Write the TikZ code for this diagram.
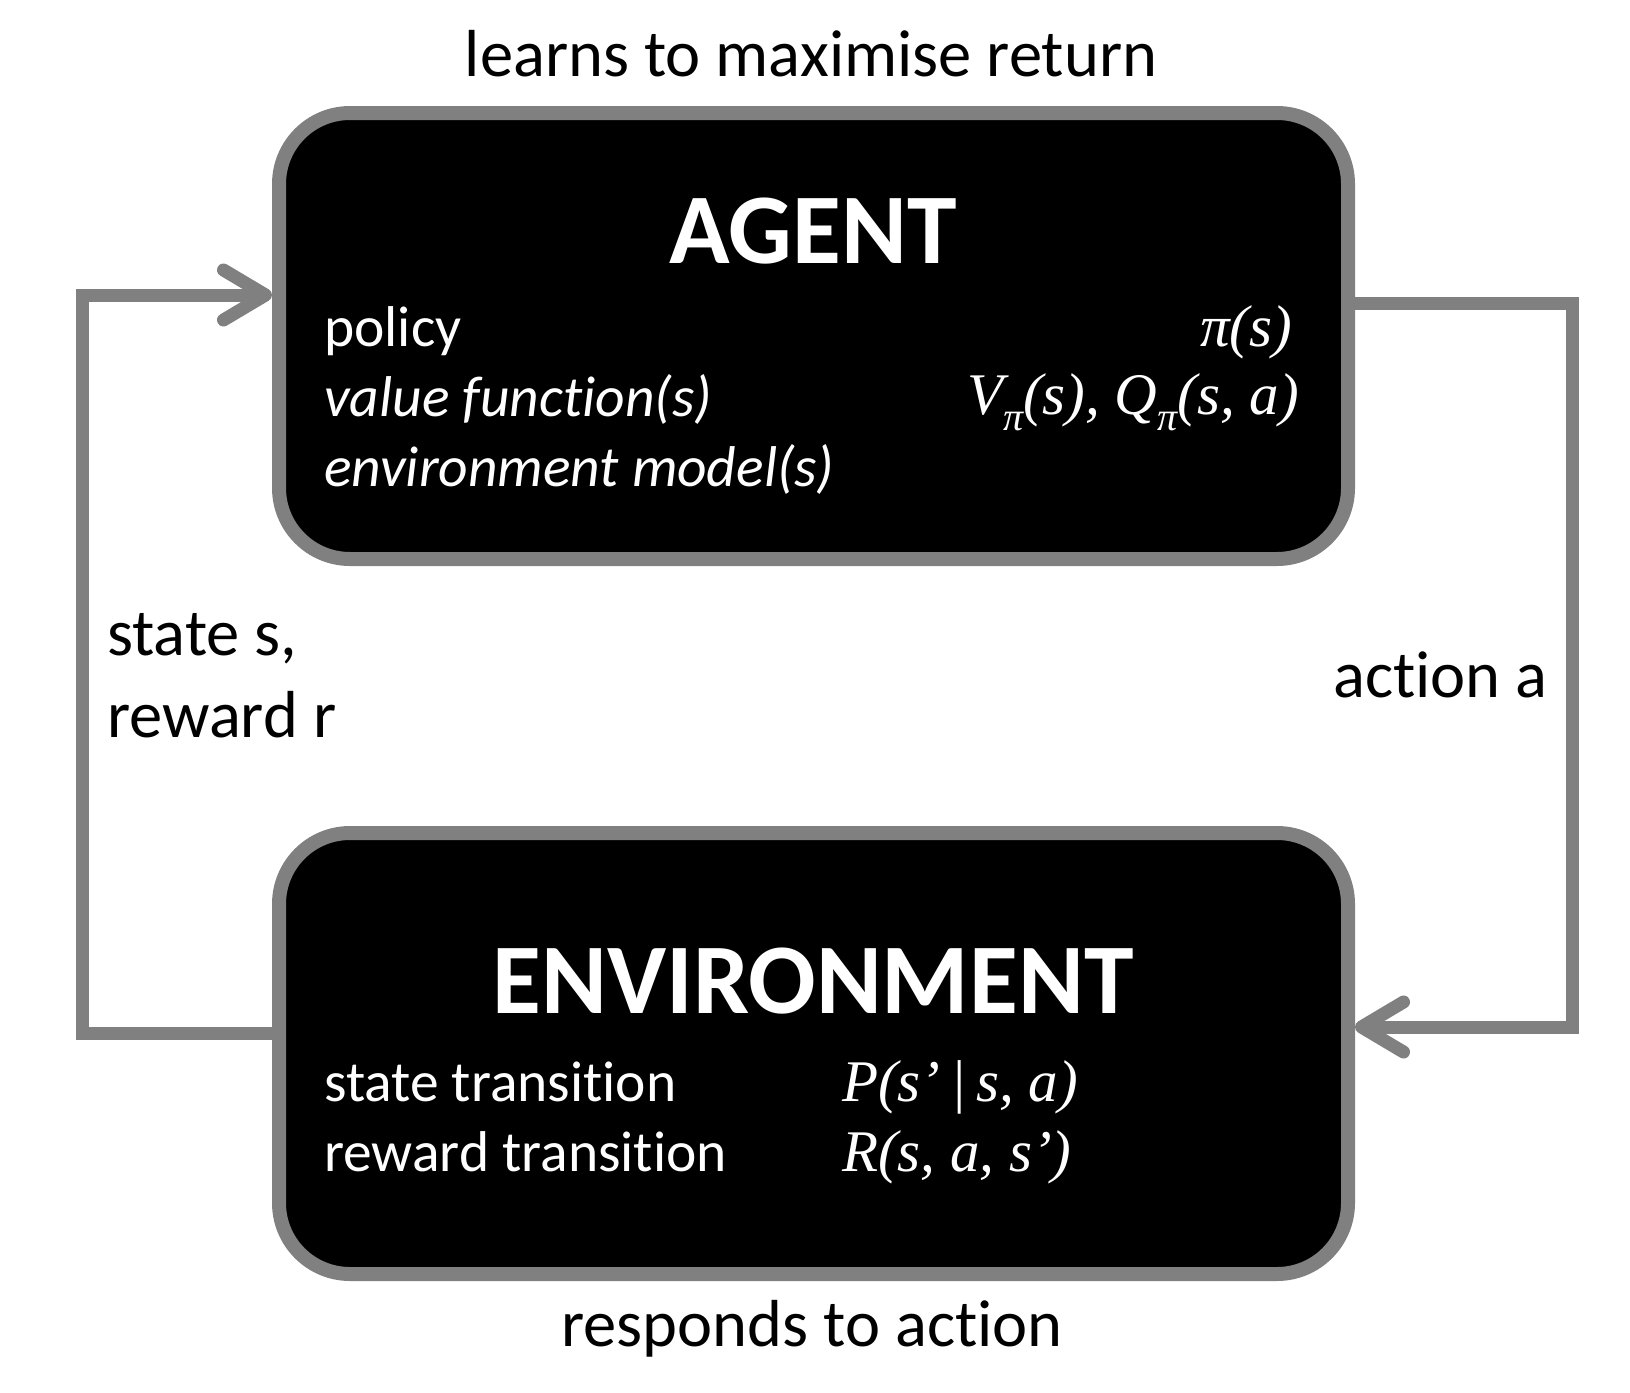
\documentclass[tikz,border=0pt]{standalone}
\usepackage{fontspec}
\setmainfont{Carlito}[Ligatures={NoCommon,NoRare}]
\newfontfamily\mfont{Liberation Serif}
\usetikzlibrary{arrows.meta}
\definecolor{bordergray}{RGB}{128,128,128}
\newcommand{\subpi}{\raisebox{-0.28em}{\fontsize{40}{40}\selectfont π}}
\begin{document}
\begin{tikzpicture}[x=1pt,y=-1pt,
  box/.style={draw=bordergray, fill=black, line width=14pt, rounded corners=71pt, inner sep=0pt},
  conn/.style={draw=bordergray, line width=13pt},
  tipped/.style={-{Straight Barb[length=42pt, width=50pt, round]}},
  lbl/.style={inner sep=0pt, font=\fontsize{66.5}{66.5}\selectfont},
  wtxt/.style={inner sep=0pt, text=white, anchor=base west, font=\fontsize{57.5}{57.5}\selectfont},
  mtxt/.style={inner sep=0pt, text=white, font=\fontsize{59}{59}\selectfont\mfont\itshape},
  title/.style={inner sep=0pt, text=white, anchor=base, font=\fontsize{100}{100}\selectfont\bfseries}
]
\useasboundingbox (0,0) rectangle (1630,1392);
\fill[white] (0,0) rectangle (1630,1392);

% connector corners
\coordinate (lt) at (82,295);
\coordinate (lb) at (82,1033);
\coordinate (rt) at (1572,303);
\coordinate (rb) at (1572,1027);

\node[box, minimum width=1069pt, minimum height=446pt] (agent) at (813.5,336) {};
\node[box, minimum width=1069pt, minimum height=441pt] (env) at (813.5,1053.5) {};

\draw[conn, tipped] (env.west |- lb) -- (lb) -- (lt) -- (agent.west |- lt);
\draw[conn, tipped] (agent.east |- rt) -- (rt) -- (rb) -- (env.east |- rb);

% outside labels
\node[lbl, anchor=base] (ttop) at (811,76) {learns to maximise return};
\node[lbl, anchor=base] (tbot) at (812,1346) {responds to action};
\node[lbl, anchor=base west] (tstate) at (107,655) {state s,};
\node[lbl, anchor=base west] (treward) at (107,737) {reward r};
\node[lbl, anchor=base west] (taction) at (1333,697) {action a};

% agent contents
\node[title] (tagent) at (813,263) {AGENT};
\node[wtxt] (tpol) at (324,346) {policy};
\node[wtxt] (tval) at (324,416) {\itshape value function(s)};
\node[wtxt] (tmod) at (324,486) {\itshape environment model(s)};
\node[mtxt, anchor=base east] (mpol) at (1292,346) {π(s)};
\node[mtxt, anchor=base east] (mval) at (1299,414) {V\subpi(s), Q\subpi(s, a)};

% environment contents
\node[title] (tenv) at (813,1013) {ENVIRONMENT};
\node[wtxt] (tst) at (324,1101) {state transition};
\node[wtxt] (trt) at (324,1171) {reward transition};
\node[mtxt, anchor=base west] (mst) at (842,1101) {P(s’\,|\,s, a)};
\node[mtxt, anchor=base west] (mrt) at (842,1171) {R(s, a, s’)};
\end{tikzpicture}
\end{document}
